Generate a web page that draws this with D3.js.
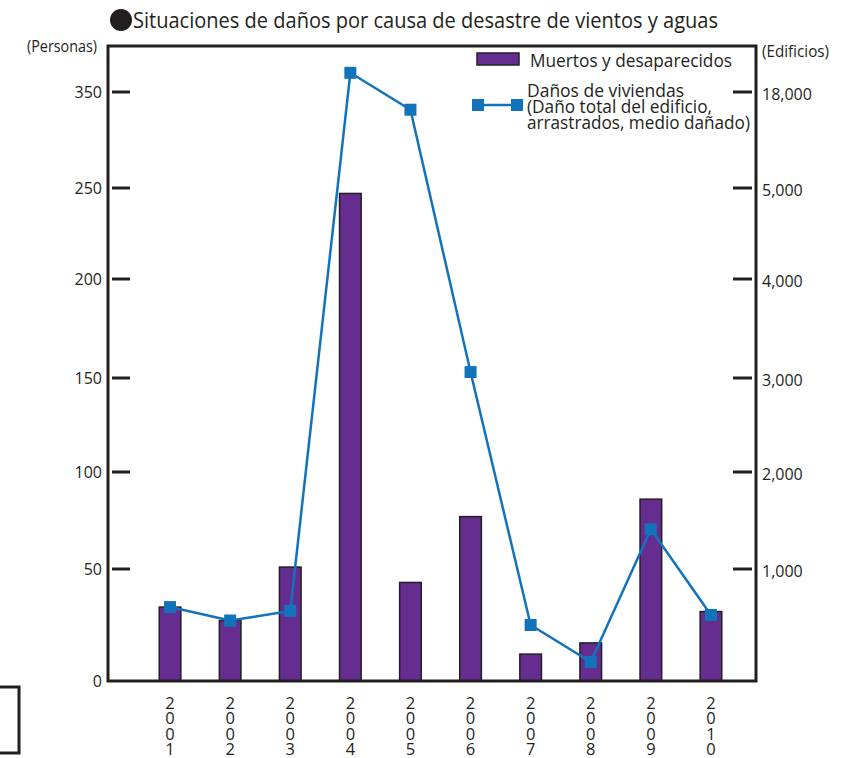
<!DOCTYPE html>
<html>
<head>
<meta charset="UTF-8">
<title>Situaciones de daños</title>
<script src="https://cdn.jsdelivr.net/npm/d3@7"></script>
<style>
    body { margin: 0; background: #fff; }
    text { font-family: "Open Sans", "Noto Sans", sans-serif; fill: #231f20; }
</style>
</head>
<body>
<svg id="chart" width="851" height="758"></svg>
<script>
// data
const years = ["2001", "2002", "2003", "2004", "2005", "2006", "2007", "2008", "2009", "2010"];
const muertos = [33, 27, 51, 247, 44, 77, 12, 17, 86, 31];
const viviendas = [660, 540, 625, 20600, 15600, 3060, 500, 170, 1410, 590];

// the axes are broken at the top, so the ticks are not evenly spaced
const leftTicks = [0, 50, 100, 150, 200, 250, 350];
const rightTicks = [0, 1000, 2000, 3000, 4000, 5000, 18000];
const tickY = [681, 569, 472, 378, 279, 188, 92];

const svg = d3.select("#chart");
const frame = { left: 108, right: 756, top: 46, bottom: 681 };

const x = d3.scaleBand().domain(years).range([140, 741]).paddingInner(0.64).paddingOuter(0.32);
const yL = d3.scaleLinear().domain(leftTicks).range(tickY);
const yR = d3.scaleLinear().domain(rightTicks).range(tickY);

const purple = "#662d91", blue = "#1273bb", ink = "#231f20";

// fits a text to the width it has in the picture
function fit(sel, w) {
    return sel.attr("textLength", w).attr("lengthAdjust", "spacingAndGlyphs");
}

// title
svg.append("circle").attr("cx", 121).attr("cy", 20).attr("r", 11).attr("fill", ink);
fit(svg.append("text").attr("x", 133).attr("y", 28).attr("font-size", 21)
    .text("Situaciones de daños por causa de desastre de vientos y aguas"), 585);

fit(svg.append("text").attr("x", 27).attr("y", 52)
    .attr("font-size", 16).text("(Personas)"), 70);
fit(svg.append("text").attr("x", 762).attr("y", 57)
    .attr("font-size", 16).text("(Edificios)"), 67);

// bars
svg.append("g").selectAll("rect")
    .data(muertos)
    .join("rect")
    .attr("x", (d, i) => x(years[i]))
    .attr("width", x.bandwidth())
    .attr("y", d => yL(d))
    .attr("height", d => yL(0) - yL(d))
    .attr("fill", purple)
    .attr("stroke", ink)
    .attr("stroke-width", 1.5);

// frame (left, top, right, bottom)
svg.append("path")
    .attr("d", "M" + frame.left + "," + frame.bottom + "V" + frame.top + "H" + frame.right +
               "V" + frame.bottom + "Z")
    .attr("fill", "none").attr("stroke", ink).attr("stroke-width", 3);

// left axis
const gl = svg.append("g");
gl.selectAll("line").data(leftTicks.slice(1)).join("line")
    .attr("x1", 112).attr("x2", 130)
    .attr("y1", d => yL(d)).attr("y2", d => yL(d))
    .attr("stroke", ink).attr("stroke-width", 3);
gl.selectAll("text").data(leftTicks).join("text")
    .attr("x", 102).attr("y", d => yL(d) + 6)
    .attr("text-anchor", "end").attr("font-size", 16)
    .text(d => d);

// right axis
const gr = svg.append("g");
gr.selectAll("line").data(rightTicks.slice(1)).join("line")
    .attr("x1", 733).attr("x2", 752)
    .attr("y1", d => yR(d)).attr("y2", d => yR(d))
    .attr("stroke", ink).attr("stroke-width", 3);
gr.selectAll("text").data(rightTicks.slice(1)).join("text")
    .attr("x", 762).attr("y", d => yR(d) + 8)
    .attr("font-size", 16)
    .text(d => d3.format(",")(d));

// year labels, one digit per line
const gx = svg.append("g");
years.forEach(yr => {
    const t = gx.append("text")
        .attr("x", x(yr) + x.bandwidth() / 2)
        .attr("text-anchor", "middle").attr("font-size", 16.5);
    yr.split("").forEach((c, j) => {
        t.append("tspan").attr("x", x(yr) + x.bandwidth() / 2).attr("y", 709 + j * 15.3).text(c);
    });
});

// line
const line = d3.line()
    .x((d, i) => x(years[i]) + x.bandwidth() / 2)
    .y(d => yR(d));

svg.append("path")
    .datum(viviendas)
    .attr("fill", "none")
    .attr("stroke", blue)
    .attr("stroke-width", 2.5)
    .attr("stroke-linejoin", "round")
    .attr("d", line);

svg.append("g").selectAll("rect")
    .data(viviendas)
    .join("rect")
    .attr("x", (d, i) => x(years[i]) + x.bandwidth() / 2 - 6)
    .attr("y", d => yR(d) - 6)
    .attr("width", 12).attr("height", 12)
    .attr("fill", blue);

// legend
const lg = svg.append("g");
lg.append("rect").attr("x", 477).attr("y", 53).attr("width", 42).attr("height", 12)
    .attr("fill", purple).attr("stroke", ink).attr("stroke-width", 1.5);
fit(lg.append("text").attr("x", 530).attr("y", 67).attr("font-size", 19)
    .text("Muertos y desaparecidos"), 202);
lg.append("line").attr("x1", 478).attr("x2", 517).attr("y1", 105).attr("y2", 105)
    .attr("stroke", blue).attr("stroke-width", 2.5);
[478, 517].forEach(cx => {
    lg.append("rect").attr("x", cx - 6).attr("y", 99).attr("width", 12).attr("height", 12)
        .attr("fill", blue);
});
const legLines = ["Daños de viviendas", "(Daño total del edificio,", "arrastrados, medio dañado)"];
const legWidths = [157, 185, 223];
legLines.forEach((s, i) => {
    fit(lg.append("text").attr("x", 527).attr("y", 97 + i * 16).attr("font-size", 19).text(s), legWidths[i]);
});

// piece of the neighbouring figure, cut off at the bottom left
svg.append("rect").attr("x", -5).attr("y", 687).attr("width", 24).attr("height", 66)
    .attr("fill", "none").attr("stroke", ink).attr("stroke-width", 3);
</script>
</body>
</html>
